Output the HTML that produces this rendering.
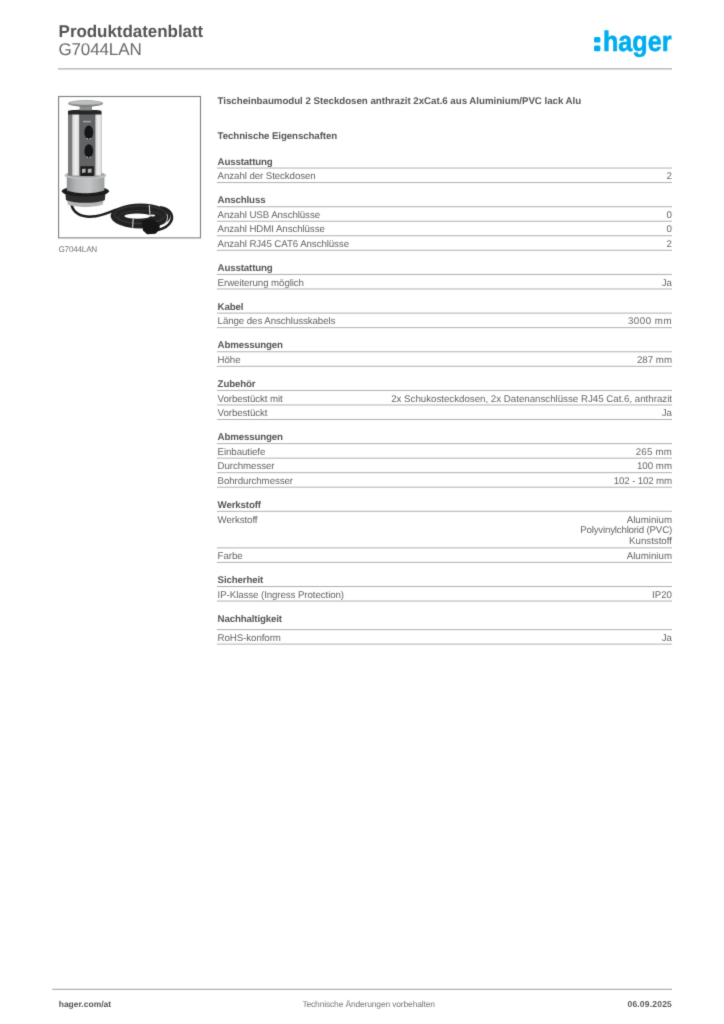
<!DOCTYPE html>
<html lang="de">
<head>
<meta charset="utf-8">
<title>Produktdatenblatt G7044LAN</title>
<style>
*{box-sizing:border-box;margin:0;padding:0}
html,body{width:724px;height:1024px;background:#fff;overflow:hidden}
body{font-family:"Liberation Sans",Arial,Helvetica,sans-serif;color:#6f6f6f;-webkit-font-smoothing:antialiased;text-rendering:geometricPrecision}
.page{position:relative;width:724px;height:1024px;background:#fff;overflow:hidden;filter:url(#soft)}
.page>*,.sec>*{position:absolute}
h1{left:58.6px;top:21.50px;font-size:17px;line-height:20px;font-weight:bold;color:#555;white-space:nowrap;letter-spacing:-0.05px}
.sku{left:58.4px;top:39.50px;font-size:17px;line-height:20px;color:#6a6a6a;white-space:nowrap;letter-spacing:-0.12px}
.logo{left:584px;top:20px;width:100px;height:46px}
.rules{left:0;top:0;width:724px;height:1024px;pointer-events:none}
.rules line{stroke:#969696;stroke-width:0.75}
.rules .hd{stroke:#9a9a9a;stroke-width:1}
figure{left:57px;top:95px;width:146px;height:160px}
figure svg{display:block}
figcaption{position:absolute;left:1.5px;top:149.50px;font-size:8.2px;line-height:10px;color:#747474;white-space:nowrap;letter-spacing:-0.25px}
h2{left:217.6px;font-size:9.73px;line-height:12.0px;font-weight:bold;color:#575757;white-space:nowrap}
h2.t1{top:95.50px;letter-spacing:-0.03px}
h2.t2{top:130.50px;letter-spacing:-0.1px}
.sec{position:static}
h3{left:217.6px;font-size:9.73px;line-height:12.0px;font-weight:bold;color:#575757;white-space:nowrap;letter-spacing:-0.15px}
.row{left:217.6px;width:454.4px;font-size:9.73px;line-height:12.0px;color:#656565;letter-spacing:-0.09px}
.row .k{float:left;white-space:nowrap}
.row .v{float:right;text-align:right;white-space:nowrap;letter-spacing:-0.01px}
.row .n{letter-spacing:0}
.row.multi .v{line-height:10.7px;margin-top:1.1px}
footer{left:0;top:990px;width:724px;height:34px;font-size:8.5px;line-height:10px}
footer span{position:absolute;top:9.00px;white-space:nowrap}
.f1{left:58.7px;font-weight:bold;color:#555;letter-spacing:0px}
.f2{left:302.4px;color:#777;letter-spacing:-0.17px}
.f3{right:52px;font-weight:bold;color:#555;letter-spacing:0.2px}
</style>
</head>
<body>
<svg width="0" height="0" style="position:absolute" aria-hidden="true"><defs><filter id="soft" x="0" y="0" width="100%" height="100%" color-interpolation-filters="sRGB"><feConvolveMatrix order="3" kernelMatrix="1 5 1 5 36 5 1 5 1" divisor="60" edgeMode="duplicate" preserveAlpha="true"/></filter></defs></svg>
<div class="page">
<h1>Produktdatenblatt</h1>
<p class="sku">G7044LAN</p>
<svg class="logo" viewBox="584 20 100 46" role="img" aria-label="hager">
<rect x="594" y="36.9" width="6.4" height="5.7" rx="1.5" fill="#00adef"/>
<rect x="594" y="45.6" width="6.4" height="5.6" rx="1.5" fill="#00adef"/>
<text x="602.9" y="51.1" font-family="Liberation Sans, Arial, sans-serif" font-weight="bold" font-size="28.3" fill="#00adef" stroke="#00adef" stroke-width="0.6" stroke-linejoin="round" textLength="68.6" lengthAdjust="spacingAndGlyphs">hager</text>
</svg>
<svg class="rules" viewBox="0 0 724 1024" aria-hidden="true">
<line class="hd" x1="58" x2="672" y1="68.9" y2="68.9"/>
<line x1="216.9" x2="672.0" y1="168.05" y2="168.05"/><line x1="216.9" x2="672.0" y1="182.57" y2="182.57"/><line x1="216.9" x2="672.0" y1="206.72" y2="206.72"/><line x1="216.9" x2="672.0" y1="221.24" y2="221.24"/><line x1="216.9" x2="672.0" y1="235.76" y2="235.76"/><line x1="216.9" x2="672.0" y1="250.28" y2="250.28"/><line x1="216.9" x2="672.0" y1="274.43" y2="274.43"/><line x1="216.9" x2="672.0" y1="288.95" y2="288.95"/><line x1="216.9" x2="672.0" y1="313.10" y2="313.10"/><line x1="216.9" x2="672.0" y1="327.62" y2="327.62"/><line x1="216.9" x2="672.0" y1="351.77" y2="351.77"/><line x1="216.9" x2="672.0" y1="366.29" y2="366.29"/><line x1="216.9" x2="672.0" y1="390.44" y2="390.44"/><line x1="216.9" x2="672.0" y1="404.96" y2="404.96"/><line x1="216.9" x2="672.0" y1="419.48" y2="419.48"/><line x1="216.9" x2="672.0" y1="443.63" y2="443.63"/><line x1="216.9" x2="672.0" y1="458.15" y2="458.15"/><line x1="216.9" x2="672.0" y1="472.67" y2="472.67"/><line x1="216.9" x2="672.0" y1="487.19" y2="487.19"/><line x1="216.9" x2="672.0" y1="511.34" y2="511.34"/><line x1="216.9" x2="672.0" y1="547.86" y2="547.86"/><line x1="216.9" x2="672.0" y1="562.38" y2="562.38"/><line x1="216.9" x2="672.0" y1="586.53" y2="586.53"/><line x1="216.9" x2="672.0" y1="601.05" y2="601.05"/><line x1="216.9" x2="672.0" y1="629.60" y2="629.60"/><line x1="216.9" x2="672.0" y1="644.12" y2="644.12"/>
<line class="hd" x1="52.3" x2="672" y1="989.3" y2="989.3"/>
</svg>
<figure>
<svg width="146" height="146" viewBox="57 95 146 146" role="img" aria-label="G7044LAN">
<defs>
<filter id="ph" x="-5%" y="-5%" width="110%" height="110%"><feGaussianBlur stdDeviation="0.7"/></filter>
<linearGradient id="gcap" x1="0" y1="0" x2="0" y2="1"><stop offset="0" stop-color="#adafb0"/><stop offset="0.55" stop-color="#9c9e9f"/><stop offset="1" stop-color="#707273"/></linearGradient>
<linearGradient id="gcyl" x1="0" y1="0" x2="1" y2="0"><stop offset="0" stop-color="#8d8f90"/><stop offset="0.25" stop-color="#b4b6b7"/><stop offset="0.6" stop-color="#c2c4c5"/><stop offset="1" stop-color="#9b9d9e"/></linearGradient>
<linearGradient id="gstrip" x1="0" y1="0" x2="1" y2="0"><stop offset="0" stop-color="#d0d1d2"/><stop offset="0.5" stop-color="#efefef"/><stop offset="1" stop-color="#d8d9d9"/></linearGradient>
</defs>
<rect x="58.6" y="96.5" width="141.9" height="141.4" fill="#fff" stroke="#7e7e7e" stroke-width="1.1"/>
<g filter="url(#ph)">
<!-- lead cable -->
<path d="M71.6 205.4 C74 213.5 82 217 92 216.6 C103 216.2 109 211.6 119 209" fill="none" stroke="#1a1a1a" stroke-width="2.5" stroke-linecap="round"/>
<!-- outer loose loop -->
<path d="M160 207.2 C170.5 208.6 174 215.5 170.8 221.6 C168.4 226 164 228.6 158 230" fill="none" stroke="#1f1f1f" stroke-width="2.6"/>
<!-- cable coil -->
<ellipse cx="140.6" cy="216" rx="30" ry="12.4" fill="#232323"/>
<path d="M166.4 213.5 C168.6 217 167.6 221.4 163.4 225.2" fill="none" stroke="#e9e9e9" stroke-width="0.9"/>
<ellipse cx="140.4" cy="214.6" rx="26" ry="8.6" fill="none" stroke="#3d3d3d" stroke-width="0.9"/>
<ellipse cx="140.4" cy="217.2" rx="22" ry="6.6" fill="none" stroke="#383838" stroke-width="0.8"/>
<ellipse cx="137.4" cy="216.1" rx="13" ry="2.7" fill="#fff"/>
<ellipse cx="152.6" cy="215.4" rx="2.6" ry="1" fill="#f2f2f2"/>
<!-- cable ties -->
<path d="M149.2 205 L150 215.2" stroke="#dcdcdc" stroke-width="1.1"/>
<path d="M133.2 218.8 L132.6 227.6" stroke="#d4d4d4" stroke-width="1.1"/>
<!-- plug -->
<path d="M141.6 221 L152.5 218.8 L159.6 224.5 L159.8 229.6 L155.5 233.8 L147 234.3 L143 230.5 Z" fill="#181818"/>
<!-- bottom silver part -->
<path d="M67 199 L103.5 199 L103 204.2 C96 207.8 75 207.8 67.6 204.2 Z" fill="#b4b6b6"/>
<!-- black collar -->
<path d="M65.2 192 L105.6 192 L104.8 200 C96 203.8 75 203.8 66 200 Z" fill="#2e2e2e"/>
<ellipse cx="85.4" cy="191.2" rx="23.6" ry="5.4" fill="#1d1d1d"/>
<!-- lower cylinder -->
<path d="M66.8 176 L104.4 176 L104.4 190.2 C96 194.2 75 194.2 66.8 190.2 Z" fill="url(#gcyl)"/>
<!-- flange -->
<ellipse cx="85.4" cy="175.4" rx="21" ry="3.6" fill="#c3c5c6"/>
<ellipse cx="85.4" cy="174.6" rx="19.4" ry="2.9" fill="#9fa1a2"/>
<!-- tower body -->
<rect x="68" y="112" width="33.4" height="63.6" fill="#6c6e6f"/>
<rect x="68" y="112" width="4.2" height="63.6" fill="#787a7b"/>
<rect x="72.2" y="114" width="7.2" height="61.6" fill="url(#gstrip)"/>
<rect x="95.2" y="114" width="6.2" height="61.6" fill="url(#gstrip)"/>
<rect x="79.4" y="114" width="15.8" height="61.6" fill="#626465"/>
<!-- label -->
<rect x="83" y="120.8" width="8" height="1.6" fill="#a2a2a2"/>
<!-- sockets -->
<ellipse cx="88.8" cy="132.4" rx="4.4" ry="6.8" fill="#171717"/>
<ellipse cx="88.8" cy="151" rx="4.4" ry="6.8" fill="#171717"/>
<rect x="86.6" y="138" width="1.4" height="1.3" fill="#b5b5b5"/>
<rect x="89.4" y="138" width="1.4" height="1.3" fill="#b5b5b5"/>
<rect x="86.6" y="156.6" width="1.4" height="1.3" fill="#b5b5b5"/>
<rect x="89.4" y="156.6" width="1.4" height="1.3" fill="#b5b5b5"/>
<!-- RJ45 ports -->
<rect x="80.4" y="166.2" width="13.4" height="9.8" fill="#1c1c1c"/>
<path d="M82 169 L85.6 168.4 L85.6 172.4 L82 173 Z M87.8 169 L91.6 168.4 L91.6 172.4 L87.8 173 Z" fill="#b0b0b0"/>
<!-- black top band -->
<path d="M68 111 C68 109.4 101.4 109.4 101.4 111 L101.4 114.4 L68 114.4 Z" fill="#262626"/>
<!-- neck -->
<rect x="79.6" y="105.4" width="12.4" height="5" fill="#8a8c8d"/>
<!-- cap -->
<ellipse cx="85.6" cy="103.4" rx="17.6" ry="3.3" fill="url(#gcap)"/>
<ellipse cx="85.6" cy="102.7" rx="15.2" ry="2" fill="#bcbebf"/>
</g>
</svg>

<figcaption>G7044LAN</figcaption>
</figure>
<h2 class="t1">Tischeinbaumodul 2 Steckdosen anthrazit 2xCat.6 aus Aluminium/PVC lack Alu</h2>
<h2 class="t2">Technische Eigenschaften</h2>
<section class="sec">
<h3 style="top:156.50px">Ausstattung</h3>
<div class="row" style="top:170.50px"><span class="k">Anzahl der Steckdosen</span><span class="v n">2</span></div>
</section>
<section class="sec">
<h3 style="top:194.50px">Anschluss</h3>
<div class="row" style="top:209.50px"><span class="k">Anzahl USB Anschlüsse</span><span class="v n">0</span></div>
<div class="row" style="top:223.50px"><span class="k">Anzahl HDMI Anschlüsse</span><span class="v n">0</span></div>
<div class="row" style="top:238.50px"><span class="k">Anzahl RJ45 CAT6 Anschlüsse</span><span class="v n">2</span></div>
</section>
<section class="sec">
<h3 style="top:262.50px">Ausstattung</h3>
<div class="row" style="top:277.50px"><span class="k">Erweiterung möglich</span><span class="v">Ja</span></div>
</section>
<section class="sec">
<h3 style="top:301.50px">Kabel</h3>
<div class="row" style="top:315.50px"><span class="k">Länge des Anschlusskabels</span><span class="v n" style="letter-spacing:0.5px">3000 mm</span></div>
</section>
<section class="sec">
<h3 style="top:339.50px">Abmessungen</h3>
<div class="row" style="top:354.50px"><span class="k">Höhe</span><span class="v n">287 mm</span></div>
</section>
<section class="sec">
<h3 style="top:378.50px">Zubehör</h3>
<div class="row" style="top:393.50px"><span class="k">Vorbestückt mit</span><span class="v">2x Schukosteckdosen, 2x Datenanschlüsse RJ45 Cat.6, anthrazit</span></div>
<div class="row" style="top:407.50px"><span class="k">Vorbestückt</span><span class="v">Ja</span></div>
</section>
<section class="sec">
<h3 style="top:431.50px">Abmessungen</h3>
<div class="row" style="top:446.50px"><span class="k">Einbautiefe</span><span class="v n" style="letter-spacing:0.2px">265 mm</span></div>
<div class="row" style="top:460.50px"><span class="k">Durchmesser</span><span class="v n">100 mm</span></div>
<div class="row" style="top:475.50px"><span class="k">Bohrdurchmesser</span><span class="v n" style="letter-spacing:-0.15px">102 - 102 mm</span></div>
</section>
<section class="sec">
<h3 style="top:499.50px">Werkstoff</h3>
<div class="row multi" style="top:514.50px"><span class="k">Werkstoff</span><span class="v">Aluminium<br><span style="letter-spacing:-0.2px">Polyvinylchlorid (PVC)</span><br>Kunststoff</span></div>
<div class="row" style="top:550.50px"><span class="k">Farbe</span><span class="v">Aluminium</span></div>
</section>
<section class="sec">
<h3 style="top:574.50px">Sicherheit</h3>
<div class="row" style="top:589.50px"><span class="k">IP-Klasse (Ingress Protection)</span><span class="v">IP20</span></div>
</section>
<section class="sec">
<h3 style="top:613.50px">Nachhaltigkeit</h3>
<div class="row" style="top:632.50px"><span class="k">RoHS-konform</span><span class="v">Ja</span></div>
</section>
<footer>
<span class="f1">hager.com/at</span>
<span class="f2">Technische Änderungen vorbehalten</span>
<span class="f3">06.09.2025</span>
</footer>
</div>
</body>
</html>
